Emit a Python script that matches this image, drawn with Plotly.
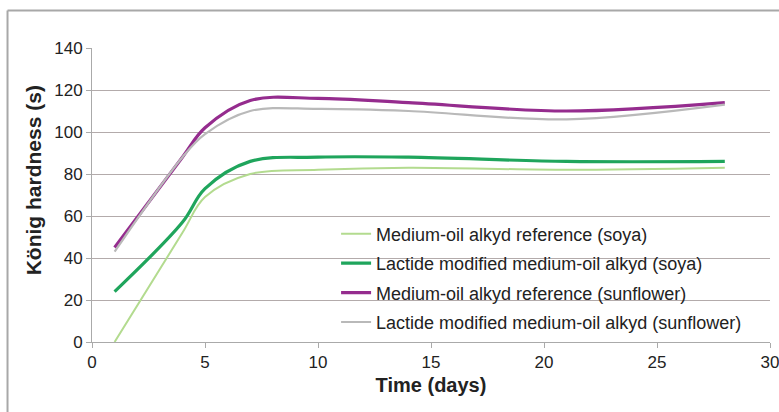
import plotly.graph_objects as go

days = [1, 4, 5, 7, 10, 14, 21, 28]
soya_ref = [0, 52, 69, 80, 82, 83, 82, 83]
soya_lac = [24, 57, 73, 86, 88, 88, 86, 86]
sun_ref = [45, 88, 102, 115, 116, 114, 110, 114]
sun_lac = [43, 88, 99, 110, 111, 110, 106, 113]

names = [
    "Medium-oil alkyd reference (soya)",
    "Lactide modified medium-oil alkyd (soya)",
    "Medium-oil alkyd reference (sunflower)",
    "Lactide modified medium-oil alkyd (sunflower)",
]
series = [soya_ref, soya_lac, sun_ref, sun_lac]
colors = ["#b3db8f", "#1fa55c", "#952c8e", "#b9b9b9"]
widths = [2, 3.2, 3.2, 2.2]

x_ticks = [0, 5, 10, 15, 20, 25, 30]
y_ticks = [0, 20, 40, 60, 80, 100, 120, 140]

FONT = "Liberation Sans, Arial, sans-serif"

fig = go.Figure()
for i, (nm, ys, c, w) in enumerate(zip(names, series, colors, widths)):
    fig.add_trace(go.Scatter(
        x=days, y=ys, name=nm, mode="lines",
        line=dict(color=c, width=w, shape="spline", smoothing=1.0),
        legendgroup=f"g{i}",
    ))

fig.update_layout(
    width=779, height=412,
    margin=dict(l=92, r=9, t=48, b=70),
    paper_bgcolor="white", plot_bgcolor="white",
    font=dict(family=FONT, size=17, color="#222222"),
    legend=dict(
        x=0.36, y=0.43, xanchor="left", yanchor="top",
        bgcolor="rgba(0,0,0,0)", font=dict(size=18, color="#222222"),
        tracegroupgap=3, itemwidth=30,
    ),
    xaxis=dict(
        range=[0, 30], tickvals=x_ticks, showgrid=False, zeroline=False,
        showline=True, linecolor="#aaaaaa", linewidth=1,
        ticks="outside", ticklen=5, tickcolor="#aaaaaa",
        ticklabeloverflow="allow", automargin=False,
        title=dict(text="<b>Time (days)</b>", font=dict(size=20), standoff=6),
    ),
    yaxis=dict(
        range=[0, 140], tickvals=y_ticks, showgrid=True, gridcolor="#b3abab",
        gridwidth=1, zeroline=False, automargin=False,
        showline=True, linecolor="#aaaaaa", linewidth=1,
        ticks="outside", ticklen=5, tickcolor="#aaaaaa",
    ),
    annotations=[
        dict(text="<b>König hardness (s)</b>", xref="paper", yref="paper",
             x=-0.087, y=0.55, xanchor="center", yanchor="middle",
             textangle=-90, showarrow=False, font=dict(size=21, color="#222222")),
    ],
    shapes=[
        dict(type="line", xref="paper", yref="paper", x0=-0.1246, x1=-0.1246, y0=-0.3, y1=1.1276,
             line=dict(color="#a8a8a8", width=2)),
        dict(type="line", xref="paper", yref="paper", x0=-0.1246, x1=1.02, y0=1.1276, y1=1.1276,
             line=dict(color="#a8a8a8", width=2)),
    ],
)

fig.write_html("out.html", config={"displayModeBar": False},
               post_script="document.body.style.margin='0';")
